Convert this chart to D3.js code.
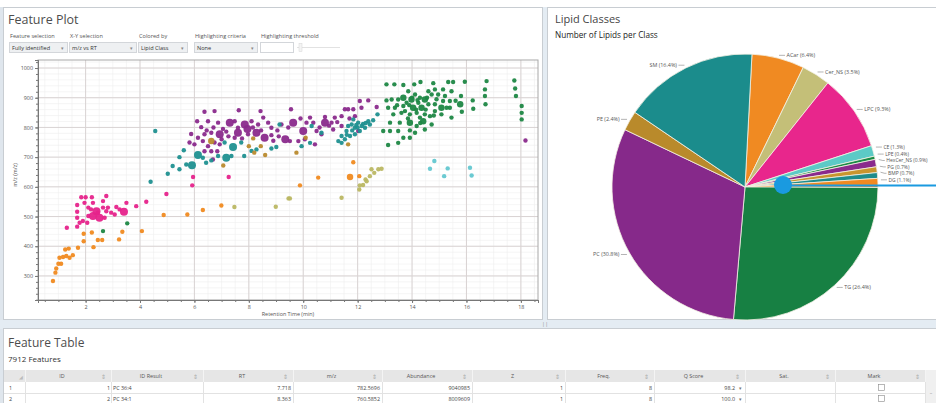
<!DOCTYPE html>
<html>
<head>
<meta charset="utf-8">
<script src="https://cdn.jsdelivr.net/npm/d3@7"></script>
<style>
body { margin: 0; background: #fff; }
svg { display: block; font-family: "Open Sans", "Liberation Sans", sans-serif; }
</style>
</head>
<body>
<svg id="chart" width="936" height="403"></svg>
<script>
// ---------------- data ----------------
// scatter points: [retention time (min), m/z, relative abundance]
var tgPoints = [
  [13.06,945,1],[13.35,945,1],[13.68,943,1],[14.08,945,1],[14.31,953,1],[14.78,949,1],[15.33,953,1],[15.51,953,1],
  [15.94,954,1],[16.74,956,1],[17.76,958,1],[17.79,931,1],[17.82,906,1],[18.03,872,1],[18.03,849,1],[18.03,827,1],
  [16.68,928,1],[16.68,906,1],[16.70,878,1],[16.23,891,1],[16.25,863,1],[15.80,906,1],[15.77,878,2],[15.83,853,1],
  [15.45,922,1],[15.39,889,1],[15.39,866,1],[15.45,833,1],[15.14,889,1],[15.08,866,2],[15.08,844,1],[14.84,878,1],
  [14.84,855,1],[14.84,928,1],[14.60,922,1],[14.47,894,2],[14.35,866,2],[14.47,844,1],[14.41,821,2],[14.72,810,1],
  [14.29,900,1],[14.11,911,1],[13.98,894,2],[14.04,866,2],[14.17,849,1],[13.92,844,1],[13.92,816,2],[14.17,805,1],
  [13.86,922,1],[13.68,900,2],[13.68,872,1],[13.49,894,1],[13.37,866,1],[13.25,894,1],[13.06,891,1],[13.12,866,1],
  [13.31,844,1],[13.55,816,1],[13.19,816,1],[12.94,788,1],[13.19,788,1],[13.49,788,1],[13.68,765,1],[13.49,748,1],
  [13.12,741,1],[13.92,790,1],[14.11,782,1],[13.92,765,1],[14.47,793,1],[14.72,911,1],[14.96,911,1],[15.14,928,1],
  [15.21,906,1],[13.74,855,1],[14.60,878,1],[14.23,883,1],[13.80,883,1],[13.61,849,1],[14.66,838,1],[14.29,833,1],
  [15.27,866,1],[14.00,900,1],[14.20,892,1],[14.55,900,1],[14.90,895,1],[13.90,875,1],[14.15,860,1],[14.50,860,1],
  [13.45,875,1],[14.80,840,1],[15.60,890,1],[13.85,830,1],[14.30,815,1]
];
var pcPoints = [
  [6.37,853,1],[6.74,855,1],[7.63,858,1],[8.43,855,1],[6.10,821,1],[6.25,801,1],[6.50,821,1],[6.87,816,1],
  [7.30,816,3],[7.48,821,1],[7.60,799,1],[7.85,810,3],[8.10,821,1],[8.34,810,1],[8.53,833,1],[8.71,816,1],
  [8.83,799,1],[5.88,778,1],[6.13,765,1],[6.37,777,1],[6.62,782,1],[6.93,777,3],[7.17,786,1],[7.60,782,3],
  [7.97,777,1],[8.28,782,3],[8.58,765,3],[8.83,774,1],[9.34,760,3],[6.31,754,1],[6.50,737,1],[6.74,749,1],
  [6.93,743,1],[6.62,720,1],[6.68,692,1],[6.84,720,1],[6.00,743,1],[5.82,749,1],[6.37,720,1],[7.48,765,1],
  [7.75,763,1],[9.55,861,1],[9.63,816,3],[10.00,788,3],[10.12,816,1],[10.25,833,1],[10.37,816,1],[10.49,788,1],
  [10.80,816,3],[10.80,835,1],[11.04,816,1],[11.10,793,1],[11.16,833,1],[11.41,838,1],[11.53,861,1],[11.65,861,1],
  [11.84,861,1],[12.08,889,1],[12.39,891,1],[12.70,869,1],[12.14,866,1],[11.41,805,1],[10.67,777,1],[9.82,754,1],
  [10.06,760,1],[10.43,743,1],[9.51,754,1],[12.02,788,1],[11.90,838,1],[18.17,756,1],[6.70,800,1],[7.05,795,1],
  [7.25,770,1],[7.95,795,3],[8.15,800,1],[8.45,790,1],[9.05,790,1],[9.20,810,1],[9.45,800,1],[9.90,830,1],
  [10.60,800,1],[10.95,806,1],[11.25,818,1],[9.10,770,1],[8.90,755,1],[7.00,760,1],[6.45,790,1],[11.70,830,1]
];
var smPoints = [
  [4.56,788,1],[4.39,617,1],[5.02,644,1],[5.20,670,1],[5.45,659,1],[5.45,700,1],[5.61,723,1],[5.70,675,1],
  [5.91,673,3],[6.13,707,3],[6.31,698,1],[6.43,681,1],[6.62,689,1],[6.87,704,1],[7.17,698,3],[7.42,734,3],
  [7.36,704,1],[7.83,704,1],[8.10,721,1],[8.28,726,1],[8.83,729,1],[9.01,734,1],[9.13,810,1],[7.11,749,1],
  [7.72,749,1],[11.29,754,1],[11.41,771,1],[11.59,788,1],[11.65,805,1],[11.78,810,1],[11.90,799,1],[12.02,816,1],
  [12.20,812,1],[12.39,821,1],[12.45,810,1],[12.27,799,1],[12.08,788,1],[11.90,777,1],[11.72,771,1],[11.53,760,1],
  [11.41,748,1],[12.73,844,1],[10.31,805,1],[10.67,782,1],[10.25,748,1],[9.94,737,1],[11.84,827,1],[12.57,824,1],
  [11.80,790,1],[12.00,800,1],[12.15,805,1],[12.30,815,1],[11.60,775,1],[11.95,808,1]
];
var lpcPoints = [
  [1.31,462,1],[1.69,466,1],[1.69,496,1],[1.69,516,1],[1.69,539,1],[1.84,565,1],[2.00,565,1],[2.23,565,1],
  [2.76,569,1],[1.96,546,1],[2.10,530,1],[2.20,524,1],[2.10,502,1],[2.27,502,3],[2.51,496,3],[2.40,518,3],
  [2.64,530,1],[2.76,518,1],[2.82,530,1],[2.94,513,1],[3.13,532,1],[3.25,524,1],[3.41,516,3],[3.50,546,1],
  [3.86,535,1],[4.23,550,1],[4.97,576,1],[5.95,633,1],[5.92,605,1],[7.26,633,1],[1.90,485,1],[2.06,479,1],
  [1.78,479,1],[2.70,496,1],[2.45,513,1],[3.07,507,1],[2.27,546,1],[2.64,552,1]
];
var acarPoints = [
  [0.80,283,1],[0.89,311,1],[0.92,325,1],[1.00,341,1],[1.10,341,1],[1.04,361,1],[1.17,364,1],[1.29,367,1],
  [1.41,361,1],[1.53,370,1],[1.25,389,1],[1.38,392,1],[1.72,395,1],[1.93,417,1],[1.93,442,1],[2.23,446,1],
  [2.45,421,1],[2.61,421,1],[2.29,397,1],[3.23,423,1],[3.35,449,1],[4.07,451,1],[4.87,505,1],[5.74,507,1],
  [6.31,522,1],[6.99,537,1],[9.88,605,1],[10.55,631,1],[11.72,633,2],[11.84,683,1],[12.06,636,1]
];
var cerPoints = [
  [7.47,532,1],[8.99,533,1],[9.46,561,1],[9.51,561,1],[11.41,563,1],[12.06,591,1],[12.08,605,1],[12.20,606,1],
  [12.29,625,1],[12.45,636,1],[12.61,647,1],[12.76,659,1],[12.88,661,1],[12.51,659,1],[12.33,619,1]
];
var cePoints = [[14.82,687,1],[14.66,661,1],[15.31,662,1],[15.18,636,1],[16.13,664,1],[16.19,638,1]];
var pePoints = [
  [7.06,672,1],[6.62,754,2],[8.16,763,1],[8.00,737,1],[8.20,715,1],[8.60,707,1],[8.44,737,1],[9.75,715,1],
  [11.65,743,1],[10.09,765,1]
];
var lpePoints = [[2.64,451,1],[3.53,477,1]];

var scatterSeries = [
  { name: 'TG', color: '#1d8744', points: tgPoints },
  { name: 'PC', color: '#8a2a8c', points: pcPoints },
  { name: 'SM', color: '#1f9090', points: smPoints },
  { name: 'PE', color: '#b98a2e', points: pePoints },
  { name: 'LPC', color: '#e6238b', points: lpcPoints },
  { name: 'ACar', color: '#f08a20', points: acarPoints },
  { name: 'Cer_NS', color: '#bab763', points: cerPoints },
  { name: 'CE', color: '#63c7d0', points: cePoints },
  { name: 'LPE', color: '#1d8744', points: lpePoints }
];

// pie: lipids per class, clockwise from the top
var lipidClasses = ['ACar', 'Cer_NS', 'LPC', 'CE', 'LPE', 'HexCer_NS', 'PG', 'BMP', 'DG', 'TG', 'PC', 'PE', 'SM'];
var lipidPct = [6.4, 3.5, 9.3, 1.3, 0.4, 0.9, 0.7, 0.7, 1.1, 26.4, 30.8, 2.4, 16.4];
var lipidColors = ['#f08a22', '#c4bf78', '#e8268c', '#5ccac6', '#1b8a45', '#8a2a8c', '#c8952f', '#1e8c8c',
                   '#f08a22', '#178043', '#86298a', '#b98a2b', '#1b8c8c'];

// table
var tableHeaders = ['', 'ID', 'ID Result', 'RT', 'm/z', 'Abundance', 'Z', 'Freq.', 'Q Score', 'Sat.', 'Mark'];
var tableRows = [
  ['1', '1', 'PC 36:4', '7.718', '782.5696', '9040985', '1', '8', '98.2', '', ''],
  ['2', '2', 'PC 34:1', '8.363', '760.5852', '8009609', '1', '8', '100.0', '', '']
];
var xTicks = [2, 4, 6, 8, 10, 12, 14, 16, 18];
var yTicks = [300, 400, 500, 600, 700, 800, 900, 1000];

// ---------------- layout ----------------
var svg = d3.select('#chart');

// window background + panels
svg.append('rect').attr('width', 936).attr('height', 403).attr('fill', '#ffffff');
svg.append('rect').attr('x', 0).attr('y', 7).attr('width', 4).attr('height', 396).attr('fill', '#dfe6ed');
svg.append('rect').attr('x', 0).attr('y', 320).attr('width', 936).attr('height', 9).attr('fill', '#e4ecf3');
svg.append('rect').attr('x', 543).attr('y', 7).attr('width', 5).attr('height', 314).attr('fill', '#e4ecf3');

svg.append('rect').attr('x', 3.5).attr('y', 7.5).attr('width', 539).attr('height', 312)
    .attr('fill', '#fff').attr('stroke', '#c8cdd2');
svg.append('rect').attr('x', 547.5).attr('y', 7.5).attr('width', 392).attr('height', 312)
    .attr('fill', '#fff').attr('stroke', '#c8cdd2');
svg.append('rect').attr('x', 3.5).attr('y', 328.5).attr('width', 936).attr('height', 80)
    .attr('fill', '#fff').attr('stroke', '#c8cdd2');

// ---------------- feature plot ----------------
svg.append('text').attr('x', 8).attr('y', 24).attr('font-size', 12.5).attr('fill', '#4d4d4d')
    .text('Feature Plot');

var controls = [
  { label: 'Feature selection', value: 'Fully identified', x: 9, w: 58, drop: true },
  { label: 'X-Y selection', value: 'm/z vs RT', x: 69, w: 67, drop: true },
  { label: 'Colored by', value: 'Lipid Class', x: 138, w: 49, drop: true },
  { label: 'Highlighting criteria', value: 'None', x: 194, w: 63, drop: true },
  { label: 'Highlighting threshold', value: '', x: 260, w: 33, drop: false }
];
controls.forEach(function (c) {
  svg.append('text').attr('x', c.x + 1).attr('y', 38).attr('font-size', 5.6).attr('fill', '#555').text(c.label);
  svg.append('rect').attr('x', c.x + 0.5).attr('y', 42.5).attr('width', c.w).attr('height', 10)
      .attr('fill', c.drop ? '#eef0f2' : '#fff').attr('stroke', '#d3d6da');
  svg.append('text').attr('x', c.x + 3).attr('y', 50).attr('font-size', 5.6).attr('fill', '#333').text(c.value);
  if (c.drop) {
    svg.append('text').attr('x', c.x + c.w - 5).attr('y', 50).attr('font-size', 5).attr('fill', '#888')
        .attr('text-anchor', 'middle').text('▾');
  }
});
// slider
svg.append('line').attr('x1', 297).attr('x2', 340).attr('y1', 47.5).attr('y2', 47.5).attr('stroke', '#e2e2e2');
svg.append('rect').attr('x', 299).attr('y', 43.5).attr('width', 3).attr('height', 8).attr('fill', '#f4f4f4')
    .attr('stroke', '#d6d6d6').attr('stroke-width', 0.5);

var plot = { left: 38, right: 538, top: 60, bottom: 300 };
var x = d3.scaleLinear().domain([0.25, 18.63]).range([plot.left, plot.right]);
var y = d3.scaleLinear().domain([219, 1027]).range([plot.bottom, plot.top]);
var r = d3.scaleSqrt().domain([1, 3]).range([2.2, 4]);

var grid = svg.append('g');
grid.selectAll('.vminor').data(d3.range(0.5, 18.6, 0.5)).enter().append('line')
    .attr('x1', d => x(d)).attr('x2', d => x(d)).attr('y1', plot.top).attr('y2', plot.bottom)
    .attr('stroke', '#efefef').attr('stroke-width', 0.6);
grid.selectAll('.hminor').data(d3.range(220, 1027, 20)).enter().append('line')
    .attr('x1', plot.left).attr('x2', plot.right).attr('y1', d => y(d)).attr('y2', d => y(d))
    .attr('stroke', '#efefef').attr('stroke-width', 0.6);
grid.selectAll('.vmajor').data(xTicks).enter().append('line')
    .attr('x1', d => x(d)).attr('x2', d => x(d)).attr('y1', plot.top).attr('y2', plot.bottom)
    .attr('stroke', '#d9d3d3').attr('stroke-width', 1);
grid.selectAll('.hmajor').data(yTicks).enter().append('line')
    .attr('x1', plot.left).attr('x2', plot.right).attr('y1', d => y(d)).attr('y2', d => y(d))
    .attr('stroke', '#d9d3d3').attr('stroke-width', 1);

svg.append('rect').attr('x', plot.left).attr('y', plot.top).attr('width', plot.right - plot.left)
    .attr('height', plot.bottom - plot.top).attr('fill', 'none').attr('stroke', '#a8a8a8');

// points
scatterSeries.forEach(function (s) {
  svg.append('g').selectAll('circle').data(s.points).enter().append('circle')
      .attr('cx', d => x(d[0])).attr('cy', d => y(d[1])).attr('r', d => r(d[2]))
      .attr('fill', s.color).attr('fill-opacity', 0.95);
});

// axes
var yAxis = d3.axisLeft(y).tickValues(yTicks).tickSize(3).tickPadding(2).tickFormat(d3.format('d'));
var yMinor = d3.axisLeft(y).tickValues(d3.range(220, 1027, 20)).tickSize(2).tickFormat('');
var xAxis = d3.axisBottom(x).tickValues(xTicks).tickSize(3).tickPadding(2).tickFormat(d3.format('d'));
var xMinor = d3.axisBottom(x).tickValues(d3.range(0.5, 18.6, 0.5)).tickSize(2).tickFormat('');

[[yMinor, 'translate(' + plot.left + ',0)'], [yAxis, 'translate(' + plot.left + ',0)'],
 [xMinor, 'translate(0,' + plot.bottom + ')'], [xAxis, 'translate(0,' + plot.bottom + ')']].forEach(function (a) {
  var g = svg.append('g').attr('transform', a[1]).call(a[0]);
  g.select('.domain').attr('stroke', '#777');
  g.selectAll('line').attr('stroke', '#777');
  g.selectAll('text').attr('font-size', 5.4).attr('fill', '#555').attr('font-family', '"Open Sans", sans-serif');
});

svg.append('text').attr('transform', 'translate(17,' + y(640) + ') rotate(-90)').attr('text-anchor', 'middle')
    .attr('font-size', 5.4).attr('fill', '#555').text('m/z (m/z)');
svg.append('text').attr('x', (plot.left + plot.right) / 2).attr('y', 316).attr('text-anchor', 'middle')
    .attr('font-size', 5.4).attr('fill', '#555').text('Retention Time (min)');

// ---------------- lipid classes pie ----------------
svg.append('text').attr('x', 555).attr('y', 23).attr('font-size', 11).attr('fill', '#454545').text('Lipid Classes');
svg.append('text').attr('x', 555).attr('y', 38).attr('font-size', 8.2).attr('fill', '#222')
    .text('Number of Lipids per Class');

var cx = 745, cy = 187, radius = 133;
var startA = 3 * Math.PI / 180;
var pie = d3.pie().sort(null).value(d => d).startAngle(startA).endAngle(startA + 2 * Math.PI);
var arcs = pie(lipidPct);
var arc = d3.arc().innerRadius(0).outerRadius(radius);

var pieG = svg.append('g').attr('transform', 'translate(' + cx + ',' + cy + ')');
pieG.selectAll('path').data(arcs).enter().append('path')
    .attr('d', arc).attr('fill', (d, i) => lipidColors[i])
    .attr('stroke', '#f4f1e4').attr('stroke-width', 0.8);

// label anchors; the thin slices on the right get spread apart so texts don't collide
var labels = arcs.map(function (d, i) {
  var a = (d.startAngle + d.endAngle) / 2;
  var right = Math.sin(a) >= 0;
  var small = lipidPct[i] < 2 && right;
  return { i: i, px: Math.sin(a) * 136, py: -Math.cos(a) * 136 - (small ? 3 : 0), right: right, small: small, ty: 0 };
});
var prev = null;
labels.forEach(function (l) {
  l.ty = l.py;
  if (l.small) {
    if (prev !== null && l.ty < prev + 6.4) l.ty = prev + 6.4;
    prev = l.ty;
  }
});
labels.forEach(function (l) {
  var dir = l.right ? 1 : -1;
  pieG.append('line').attr('x1', l.px).attr('x2', l.px + dir * 4).attr('y1', l.py).attr('y2', l.ty)
      .attr('stroke', '#666').attr('stroke-width', 0.5);
  pieG.append('line').attr('x1', l.px + dir * 4).attr('x2', l.px + dir * 6).attr('y1', l.ty).attr('y2', l.ty)
      .attr('stroke', '#666').attr('stroke-width', 0.5);
  pieG.append('text').attr('x', l.px + dir * 7.5).attr('y', l.ty).attr('dy', '0.35em')
      .attr('text-anchor', l.right ? 'start' : 'end').attr('font-size', l.small ? 5 : 5.4).attr('fill', '#555')
      .text(lipidClasses[l.i] + ' (' + lipidPct[l.i].toFixed(1) + '%)');
});

// blue callout marker
svg.append('line').attr('x1', 783).attr('x2', 936).attr('y1', 185.5).attr('y2', 185.5)
    .attr('stroke', '#1a9ae0').attr('stroke-width', 2);
svg.append('circle').attr('cx', 783).attr('cy', 185).attr('r', 9).attr('fill', '#1a9ae0');

// ---------------- feature table ----------------
svg.append('text').attr('x', 8).attr('y', 347).attr('font-size', 12).attr('fill', '#4d4d4d').text('Feature Table');
svg.append('text').attr('x', 8).attr('y', 362).attr('font-size', 8).attr('fill', '#333').text('7912  Features');
// splitter grip
svg.append('text').attr('x', 545).attr('y', 326).attr('font-size', 6).attr('fill', '#999')
    .attr('text-anchor', 'middle').text('||');

var colEdges = [4, 25, 111, 203, 293, 382, 472, 565, 654, 745, 835, 925];
var headTop = 370, rowH = 11;
var table = svg.append('g');
table.append('rect').attr('x', 4).attr('y', headTop).attr('width', 921).attr('height', 12)
    .attr('fill', '#e6e6e6');
tableHeaders.forEach(function (h, i) {
  var x0 = colEdges[i], x1 = colEdges[i + 1];
  if (i > 0) {
    table.append('text').attr('x', x0 + (x1 - x0 - 12) / 2).attr('y', headTop + 8).attr('text-anchor', 'middle')
        .attr('font-size', 5.4).attr('fill', '#555').text(h);
    table.append('text').attr('x', x1 - 8).attr('y', headTop + 8.5).attr('text-anchor', 'middle')
        .attr('font-size', 6).attr('fill', '#aaa').text('⇕');
  } else {
    table.append('text').attr('x', 19).attr('y', headTop + 9).attr('font-size', 4.5).attr('fill', '#bbb').text('◢');
  }
  table.append('line').attr('x1', x1 + 0.5).attr('x2', x1 + 0.5).attr('y1', headTop).attr('y2', headTop + 12)
      .attr('stroke', '#f4f4f4');
});
tableRows.forEach(function (row, ri) {
  var ty = headTop + 12 + ri * rowH;
  table.append('line').attr('x1', 4).attr('x2', 925).attr('y1', ty + rowH + 0.5).attr('y2', ty + rowH + 0.5)
      .attr('stroke', '#e2e2e2');
  row.forEach(function (v, i) {
    var x0 = colEdges[i], x1 = colEdges[i + 1];
    table.append('line').attr('x1', x1 + 0.5).attr('x2', x1 + 0.5).attr('y1', ty).attr('y2', ty + rowH)
        .attr('stroke', '#e2e2e2');
    if (i === 0) {
      table.append('text').attr('x', 9).attr('y', ty + 7.5).attr('font-size', 5.4).attr('fill', '#444').text(v);
    } else if (i === 2) {
      table.append('text').attr('x', x0 + 2).attr('y', ty + 7.5).attr('font-size', 5.4).attr('fill', '#444').text(v);
    } else if (i === 8) {
      table.append('text').attr('x', x1 - 10).attr('y', ty + 7.5).attr('text-anchor', 'end')
          .attr('font-size', 5.4).attr('fill', '#444').text(v);
      table.append('text').attr('x', x1 - 5).attr('y', ty + 7.5).attr('text-anchor', 'middle')
          .attr('font-size', 5).attr('fill', '#777').text('▾');
    } else if (i === 10) {
      table.append('rect').attr('x', x0 + 43.5).attr('y', ty + 2.5).attr('width', 6).attr('height', 6)
          .attr('fill', '#fff').attr('stroke', '#888').attr('stroke-width', 0.6);
    } else if (v !== '') {
      table.append('text').attr('x', i === 1 ? x1 - 1 : x1 - 2).attr('y', ty + 7.5).attr('text-anchor', 'end')
          .attr('font-size', 5.4).attr('fill', '#444').text(v);
    }
  });
});
// scrollbar
table.append('rect').attr('x', 926).attr('y', headTop).attr('width', 10).attr('height', 33).attr('fill', '#f0f0f0');
table.append('text').attr('x', 931).attr('y', headTop + 25).attr('text-anchor', 'middle')
    .attr('font-size', 5).attr('fill', '#999').text('–');
</script>
</body>
</html>
